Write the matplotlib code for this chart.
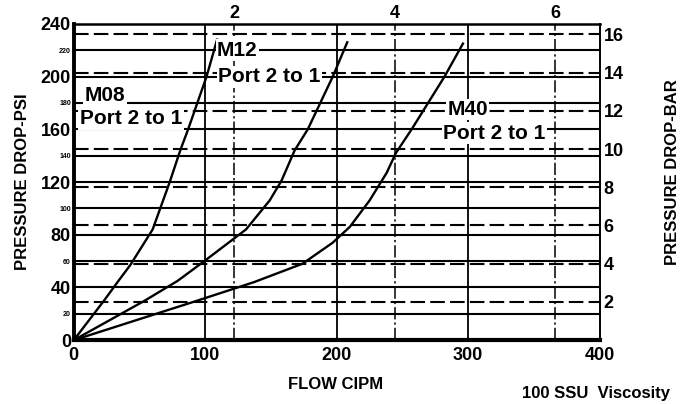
import matplotlib.pyplot as plt

plt.rcParams['font.family'] = ['Liberation Sans', 'DejaVu Sans']

# flow (CIPM) vs pressure drop (PSI)
m08_flow = [0, 23, 34, 43, 60, 73, 81, 87, 101, 109]
m08_psi = [0, 30, 45, 57, 84, 120, 144, 160, 200, 228]

m12_flow = [0, 54, 79, 98, 131, 149, 158, 168, 178, 197, 208]
m12_psi = [0, 30, 45, 59, 84, 106, 121, 144, 160, 200, 226]

m40_flow = [0, 94, 137, 174, 197, 210, 225, 238, 245, 257, 282, 296]
m40_psi = [0, 30, 44, 58, 74, 86, 106, 127, 142, 160, 200, 225]

psi_major = [0, 40, 80, 120, 160, 200, 240]
psi_minor = [20, 60, 100, 140, 180, 220]
flow_ticks = [0, 100, 200, 300, 400]
bar_ticks = [2, 4, 6, 8, 10, 12, 14, 16]
lpm_ticks = [2, 4, 6]

PSI_PER_BAR = 14.5038
CIPM_PER_LPM = 61.0237

fig = plt.figure(figsize=(6.83, 4.04), dpi=100)
ax = fig.add_axes([0.108, 0.158, 0.770, 0.783])
ax.set_xlim(0, 400)
ax.set_ylim(0, 240)

# grid: solid psi / cipm lines, dashed bar lines, dash-dot lpm lines
for p in psi_minor + psi_major[1:-1]:
    ax.axhline(p, color='black', lw=1.5, zorder=1)
for b in bar_ticks:
    ax.axhline(b * PSI_PER_BAR, color='black', lw=1.5, ls=(0, (7, 2.5)), zorder=1)
for f in flow_ticks[1:-1]:
    ax.axvline(f, color='black', lw=1.3, zorder=1)
for l in lpm_ticks:
    ax.axvline(l * CIPM_PER_LPM, color='black', lw=1.1, ls=(0, (8, 2, 1.5, 2)), zorder=1)

# curves
for fl, ps in [(m08_flow, m08_psi), (m12_flow, m12_psi), (m40_flow, m40_psi)]:
    ax.plot(fl, ps, color='black', lw=1.7, zorder=3, solid_joinstyle='round')

# labels on the chart
box = dict(facecolor='white', edgecolor='none', pad=1.0)
lab = dict(fontsize=15, fontweight='bold', va='center', ha='left', bbox=box, zorder=4)
ax.text(8.4, 186, 'M08', **lab)
ax.text(4.6, 168, 'Port 2 to 1', **lab)
ax.text(109, 220, 'M12', **lab)
ax.text(110, 200, 'Port 2 to 1', **lab)
ax.text(284, 175, 'M40', **lab)
ax.text(281, 157, 'Port 2 to 1', **lab)

# frame
for side, w in [('left', 2.8), ('bottom', 3.0), ('top', 1.8), ('right', 1.4)]:
    ax.spines[side].set_linewidth(w)

ax.set_xticks(flow_ticks)
ax.set_xticklabels([str(v) for v in flow_ticks], fontsize=13, fontweight='bold')
ax.set_yticks(psi_major)
ax.set_yticklabels([str(v) for v in psi_major], fontsize=13, fontweight='bold')
ax.set_yticks(psi_minor, minor=True)
ax.set_yticklabels([str(v) for v in psi_minor], minor=True, fontsize=5, fontweight='bold')
ax.tick_params(axis='both', which='both', length=0)
ax.tick_params(axis='y', which='both', pad=2)
ax.tick_params(axis='x', pad=5)

# right axis in bar, top axis in LPM
ax_bar = ax.secondary_yaxis('right', functions=(lambda p: p / PSI_PER_BAR,
                                                 lambda b: b * PSI_PER_BAR))
ax_bar.set_yticks(bar_ticks)
ax_bar.set_yticklabels([str(v) for v in bar_ticks], fontsize=13, fontweight='bold')
ax_bar.tick_params(length=0, pad=3)
ax_bar.spines['right'].set_visible(False)

ax_lpm = ax.secondary_xaxis('top', functions=(lambda c: c / CIPM_PER_LPM,
                                               lambda l: l * CIPM_PER_LPM))
ax_lpm.set_xticks(lpm_ticks)
ax_lpm.set_xticklabels([str(v) for v in lpm_ticks], fontsize=13, fontweight='bold')
ax_lpm.tick_params(length=0, pad=1)
ax_lpm.spines['top'].set_visible(False)

ax.set_ylabel('PRESSURE DROP-PSI', fontsize=12, fontweight='bold', labelpad=8)
fig.text(0.985, 0.575, 'PRESSURE DROP-BAR', rotation=90, fontsize=12,
         fontweight='bold', ha='center', va='center')
fig.text(0.492, 0.048, 'FLOW CIPM', fontsize=12, fontweight='bold',
         ha='center', va='center')
fig.text(0.872, 0.027, '100 SSU  Viscosity', fontsize=12, fontweight='bold',
         ha='center', va='center')

fig.savefig('out.png', dpi=100)
